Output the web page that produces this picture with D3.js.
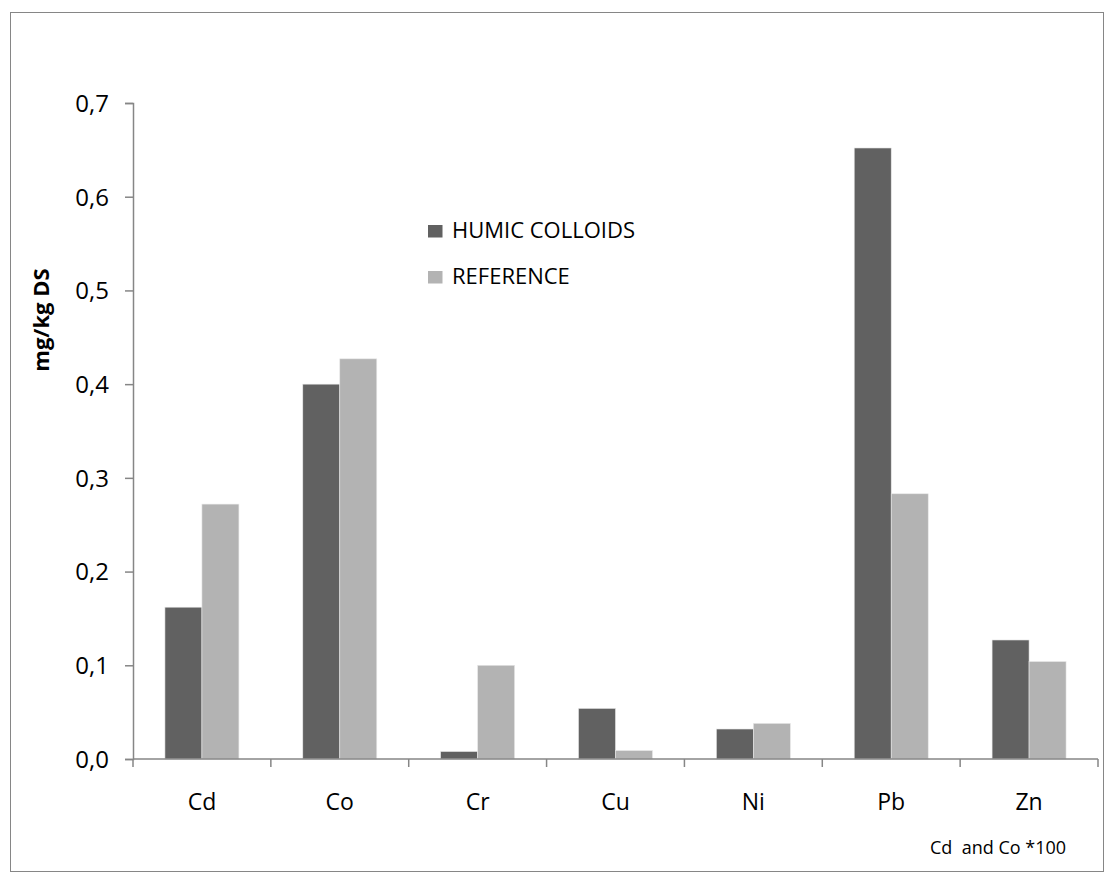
<!DOCTYPE html>
<html><head><meta charset="utf-8">
<script src="https://cdn.jsdelivr.net/npm/d3@7/dist/d3.min.js"></script>
<style>
html,body{margin:0;padding:0;background:#fff;}
svg{display:block;font-family:"Open Sans", "Liberation Sans", sans-serif;}
</style></head>
<body>
<svg id="chart" width="1107" height="881"></svg>
<script>
const categories = ["Cd","Co","Cr","Cu","Ni","Pb","Zn"];
const humic = [0.162,0.400,0.008,0.054,0.032,0.652,0.127];
const reference = [0.272,0.427,0.100,0.009,0.038,0.283,0.104];
const seriesNames = ["HUMIC COLLOIDS","REFERENCE"];
const seriesColors = ["#616161","#b3b3b3"];
const yTicks = [0,0.1,0.2,0.3,0.4,0.5,0.6,0.7];

const svg = d3.select("#chart");
// outer frame
svg.append("rect").attr("x",10.5).attr("y",12.5).attr("width",1093).attr("height",859)
  .attr("fill","#fff").attr("stroke","#868686").attr("stroke-width",1);

const pLeft=133, pRight=1098, pTop=103, pBottom=759;
const x = d3.scaleBand().domain(categories).range([pLeft,pRight]).padding(0);
const y = d3.scaleLinear().domain([0,0.7]).range([pBottom,pTop]);
const barW = 37;

const series = [humic, reference];
series.forEach((vals,si)=>{
  svg.append("g").selectAll("rect").data(categories).join("rect")
    .attr("x",d=>x(d)+x.bandwidth()/2 - barW + si*barW)
    .attr("y",(d,i)=>y(vals[i]))
    .attr("width",barW)
    .attr("height",(d,i)=>y(0)-y(vals[i]))
    .attr("fill",seriesColors[si])
    .attr("stroke","#e8e8e8").attr("stroke-width",0.6);
});

// y axis
const yAxis = d3.axisLeft(y).tickValues(yTicks).tickSize(8).tickPadding(16)
  .tickFormat(d=>d3.format(".1f")(d).replace(".",","));
const gy = svg.append("g").attr("transform",`translate(${pLeft},0)`).call(yAxis);
gy.select(".domain").attr("stroke","#868686").attr("stroke-width",1.5);
gy.selectAll(".tick line").attr("stroke","#868686").attr("stroke-width",1.5);
gy.selectAll(".tick text").attr("font-size",24).attr("fill","#000")
  .attr("font-family","'Open Sans', sans-serif").attr("dy","0.35em");

// x axis with boundary ticks
const gx = svg.append("g").attr("transform",`translate(0,${pBottom})`);
gx.append("line").attr("x1",pLeft).attr("x2",pRight).attr("y1",0).attr("y2",0)
  .attr("stroke","#868686").attr("stroke-width",1.5);
const bounds = categories.map(c=>x(c)).concat([pRight]);
gx.selectAll("line.tk").data(bounds).join("line").attr("class","tk")
  .attr("x1",d=>d).attr("x2",d=>d).attr("y1",0).attr("y2",8)
  .attr("stroke","#868686").attr("stroke-width",1.5);
gx.selectAll("text").data(categories).join("text")
  .attr("x",d=>x(d)+x.bandwidth()/2).attr("y",50.5)
  .attr("text-anchor","middle")
  .attr("font-size",23).attr("fill","#000").text(d=>d);

// y title
svg.append("text").attr("transform","translate(49,320) rotate(-90)")
  .attr("text-anchor","middle")
  .attr("font-size",22).attr("font-weight","bold").attr("fill","#000").text("mg/kg DS");

// legend
const lg = svg.append("g");
seriesNames.forEach((n,i)=>{
  const base = 237.5 + i*46;
  lg.append("rect").attr("x",428).attr("y",base-12.5).attr("width",14.5).attr("height",12.5).attr("fill",seriesColors[i]);
  lg.append("text").attr("x",452).attr("y",base+0.5)
    .attr("font-size",22).attr("fill","#000").text(n);
});

// note
svg.append("text").attr("x",930).attr("y",854).attr("text-anchor","start")
  .attr("font-size",18).attr("fill","#000").style("white-space","pre").text("Cd  and Co *100");
</script>
</body></html>
